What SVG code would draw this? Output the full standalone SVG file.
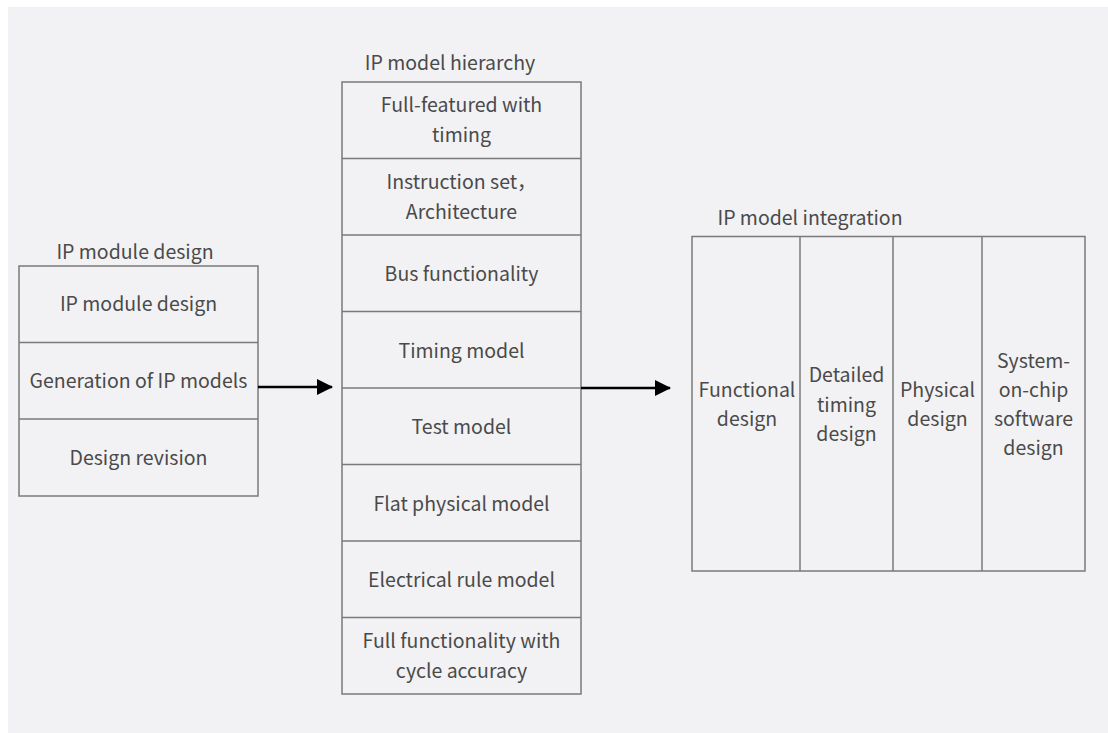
<svg xmlns="http://www.w3.org/2000/svg" width="1108" height="733" viewBox="0 0 1108 733">
<style>
.t{font-family:"Noto Sans CJK SC","Noto Sans",sans-serif;font-size:19.5px;fill:#4a4a4a;text-anchor:middle}
.b{fill:none;stroke:#7a7a7a;stroke-width:1.5}
.c{stroke:#000;stroke-width:2.5;fill:none}
</style>
<defs>
<marker id="ah" markerWidth="16" markerHeight="16" refX="15" refY="8" orient="auto" markerUnits="userSpaceOnUse" viewBox="0 0 16 16">
<path d="M0,0 L16,8 L0,16 z" fill="#000"/>
</marker>
</defs>
<rect x="0" y="0" width="1108" height="733" fill="#ffffff"/>
<rect x="8" y="7" width="1100" height="726" fill="#f2f2f4"/>

<g id="ip-module-design">
<text class="t" x="135" y="259">IP module design</text>
<rect class="b" x="19" y="266" width="239" height="230"/>
<line class="b" x1="19" y1="342.5" x2="258" y2="342.5"/>
<line class="b" x1="19" y1="419" x2="258" y2="419"/>
<text class="t" x="138.5" y="311">IP module design</text>
<text class="t" x="138.5" y="388">Generation of IP models</text>
<text class="t" x="138.5" y="465">Design revision</text>
</g>

<g id="ip-model-hierarchy">
<text class="t" x="450" y="70">IP model hierarchy</text>
<rect class="b" x="342" y="82" width="239" height="612"/>
<line class="b" x1="342" y1="158.5" x2="581" y2="158.5"/>
<line class="b" x1="342" y1="235" x2="581" y2="235"/>
<line class="b" x1="342" y1="311.5" x2="581" y2="311.5"/>
<line class="b" x1="342" y1="388" x2="581" y2="388"/>
<line class="b" x1="342" y1="464.5" x2="581" y2="464.5"/>
<line class="b" x1="342" y1="541" x2="581" y2="541"/>
<line class="b" x1="342" y1="617.5" x2="581" y2="617.5"/>
<text class="t" x="461.5" y="112">Full-featured with</text>
<text class="t" x="461.5" y="142">timing</text>
<text class="t" x="461.5" y="189">Instruction set，</text>
<text class="t" x="461.5" y="219">Architecture</text>
<text class="t" x="461.5" y="281">Bus functionality</text>
<text class="t" x="461.5" y="358">Timing model</text>
<text class="t" x="461.5" y="434">Test model</text>
<text class="t" x="461.5" y="511">Flat physical model</text>
<text class="t" x="461.5" y="587">Electrical rule model</text>
<text class="t" x="461.5" y="648">Full functionality with</text>
<text class="t" x="461.5" y="678">cycle accuracy</text>
</g>

<g id="ip-model-integration">
<text class="t" x="810" y="225">IP model integration</text>
<rect class="b" x="692" y="236.5" width="393" height="334.5"/>
<line class="b" x1="800" y1="236.5" x2="800" y2="571"/>
<line class="b" x1="893" y1="236.5" x2="893" y2="571"/>
<line class="b" x1="982" y1="236.5" x2="982" y2="571"/>
<text class="t" x="747" y="397">Functional</text>
<text class="t" x="747" y="426">design</text>
<text class="t" x="846.5" y="382">Detailed</text>
<text class="t" x="846.5" y="412">timing</text>
<text class="t" x="846.5" y="441">design</text>
<text class="t" x="937.5" y="397">Physical</text>
<text class="t" x="937.5" y="426">design</text>
<text class="t" x="1033.5" y="368">System-</text>
<text class="t" x="1033.5" y="397">on-chip</text>
<text class="t" x="1033.5" y="426">software</text>
<text class="t" x="1033.5" y="455">design</text>
</g>

<g id="connectors">
<line class="c" x1="258" y1="387" x2="332" y2="387" marker-end="url(#ah)"/>
<line class="c" x1="581" y1="388" x2="670" y2="388" marker-end="url(#ah)"/>
</g>
</svg>
